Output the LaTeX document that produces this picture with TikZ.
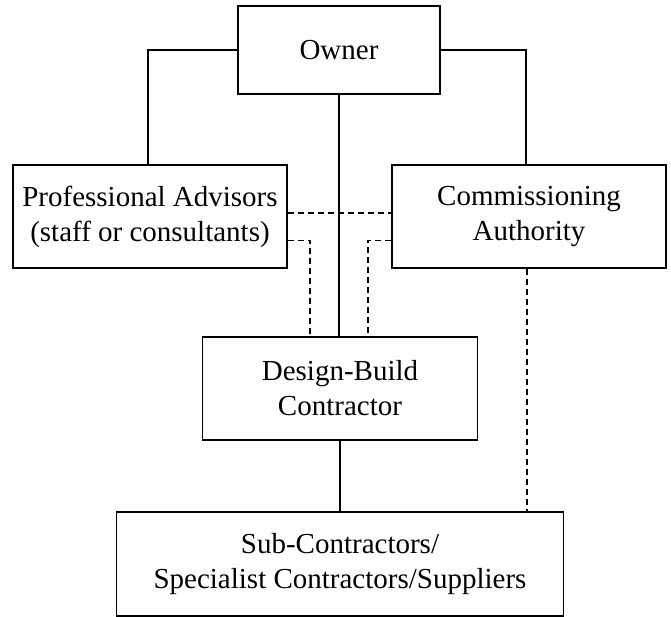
\documentclass[tikz,border=0pt]{standalone}
\usepackage{fontspec}
\setmainfont{Liberation Serif}
\usetikzlibrary{positioning}

\begin{document}
\begin{tikzpicture}[x=1pt,y=-1pt,
        line width=1.8pt,
        box/.style = {draw,align=center,inner sep=0pt,
            font=\fontsize{29}{35}\selectfont},
        link/.style = {draw},
        dotlink/.style = {draw,dash pattern=on 6pt off 4pt}]
        \useasboundingbox (0,0) rectangle (671,617);
        \node[box,minimum width=202,minimum height=88](owner) at (339,50) {Owner};
        \node[box,minimum width=274,minimum height=103](advisors) at (150,216.5)
            {Professional Advisors\\(staff or consultants)};
        \node[box,minimum width=274,minimum height=103](authority) at (529,216.5)
            {Commissioning\\Authority};
        \node[box,minimum width=275,minimum height=103](builder) at (340,388.5)
            {Design-Build\\Contractor};
        \node[box,minimum width=447,minimum height=104](subs) at (340,564)
            {Sub-Contractors/\\Specialist Contractors/Suppliers};
        % solid lines
        \path[link]
            (owner.west) -| ([xshift=-2pt]advisors.north)
            (owner.east) -| ([xshift=-3pt]authority.north)
            (owner.south) -- (owner.south |- builder.north)
            (builder.south) -- (builder.south |- subs.north);
        % dashed lines
        \path[dotlink]
            ([yshift=3.5pt]advisors.east) -- ([yshift=3.5pt]authority.west)
            ([yshift=-24pt]advisors.east) -| ([xshift=-30pt]builder.north)
            ([yshift=-24pt]authority.west) -| ([xshift=28pt]builder.north)
            ([xshift=-2pt]authority.south) -- ([xshift=-2pt]authority.south |- subs.north);
    \end{tikzpicture}
\end{document}
